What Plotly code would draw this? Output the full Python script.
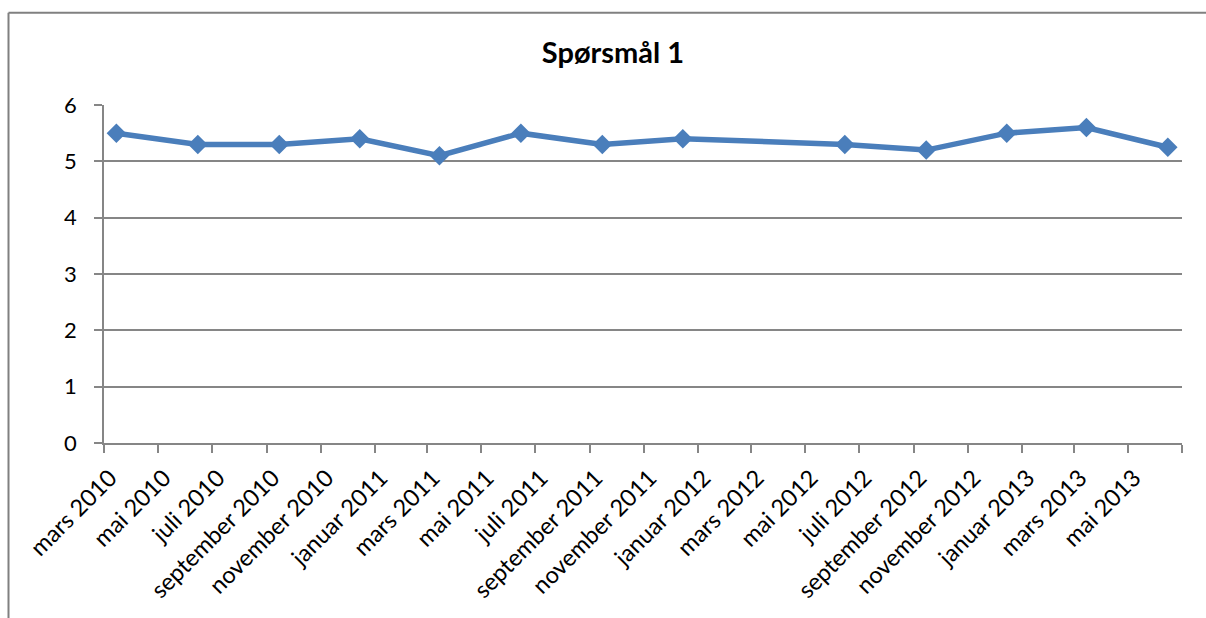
import plotly.graph_objects as go

# Survey dates and average scores for question 1
survey_dates = [
    "2010-03-15", "2010-06-15", "2010-09-15", "2010-12-15",
    "2011-03-15", "2011-06-15", "2011-09-15", "2011-12-15",
    "2012-06-15", "2012-09-15", "2012-12-15",
    "2013-03-15", "2013-06-15",
]
scores = [5.5, 5.3, 5.3, 5.4, 5.1, 5.5, 5.3, 5.4, 5.3, 5.2, 5.5, 5.6, 5.25]

# Month ticks every second month, Norwegian month names
tick_dates = [
    "2010-03-01", "2010-05-01", "2010-07-01", "2010-09-01", "2010-11-01",
    "2011-01-01", "2011-03-01", "2011-05-01", "2011-07-01", "2011-09-01",
    "2011-11-01", "2012-01-01", "2012-03-01", "2012-05-01", "2012-07-01",
    "2012-09-01", "2012-11-01", "2013-01-01", "2013-03-01", "2013-05-01",
    "2013-07-01",
]
tick_labels = [
    "mars 2010", "mai 2010", "juli 2010", "september 2010", "november 2010",
    "januar 2011", "mars 2011", "mai 2011", "juli 2011", "september 2011",
    "november 2011", "januar 2012", "mars 2012", "mai 2012", "juli 2012",
    "september 2012", "november 2012", "januar 2013", "mars 2013", "mai 2013",
    "",
]
y_ticks = [0, 1, 2, 3, 4, 5, 6]

LINE_BLUE = "#4A7EBB"
AXIS_GREY = "#868686"
FONT = "Lato"

fig = go.Figure()
fig.add_trace(go.Scatter(
    x=survey_dates,
    y=scores,
    mode="lines+markers",
    line=dict(color=LINE_BLUE, width=5.5),
    marker=dict(symbol="diamond", size=15, color=LINE_BLUE),
    showlegend=False,
    hoverinfo="x+y",
))

W, H = 1206, 618
ml, mr, mt, mb = 104, 24, 105, 175

fig.update_layout(
    width=W,
    height=H,
    margin=dict(l=ml, r=mr, t=mt, b=mb, pad=0, autoexpand=False),
    paper_bgcolor="white",
    plot_bgcolor="white",
    font=dict(family=FONT, size=23, color="black"),
    title=dict(
        text="<b>Spørsmål 1</b>",
        font=dict(family=FONT, size=29, color="black"),
        x=613 / W,
        xanchor="center",
        xref="container",
        y=1 - 53 / H,
        yanchor="middle",
        yref="container",
    ),
    xaxis=dict(
        type="date",
        range=[tick_dates[0], tick_dates[-1]],
        tickmode="array",
        tickvals=tick_dates,
        ticktext=tick_labels,
        tickangle=-45,
        ticks="outside",
        ticklen=8,
        tickwidth=1.5,
        tickcolor=AXIS_GREY,
        showline=True,
        linecolor=AXIS_GREY,
        linewidth=1.5,
        showgrid=False,
        zeroline=False,
        automargin=False,
        ticklabelshift=6,
        ticklabelstandoff=2,
        tickfont=dict(family=FONT, size=23.5, color="black"),
    ),
    yaxis=dict(
        range=[0, 6],
        tickmode="array",
        tickvals=y_ticks,
        ticktext=[str(v) for v in y_ticks],
        ticks="outside",
        ticklen=8,
        tickwidth=1.5,
        tickcolor=AXIS_GREY,
        showline=True,
        linecolor=AXIS_GREY,
        linewidth=1.5,
        showgrid=True,
        gridcolor=AXIS_GREY,
        gridwidth=1.5,
        zeroline=False,
        automargin=False,
        ticklabelstandoff=13,
        tickfont=dict(family=FONT, size=22, color="black"),
    ),
)

# Chart-area frame: top and left edges
pw = W - ml - mr
ph = H - mt - mb
def px_x(p):
    return (p - ml) / pw
def px_y(p):
    return 1 - (p - mt) / ph

fig.add_shape(type="line", xref="paper", yref="paper",
              x0=px_x(8.5), x1=px_x(W + 2), y0=px_y(12.7), y1=px_y(12.7),
              line=dict(color="#808080", width=2))
fig.add_shape(type="line", xref="paper", yref="paper",
              x0=px_x(8.5), x1=px_x(8.5), y0=px_y(12.7), y1=px_y(H + 2),
              line=dict(color="#808080", width=2))

fig.write_html("out.html")
